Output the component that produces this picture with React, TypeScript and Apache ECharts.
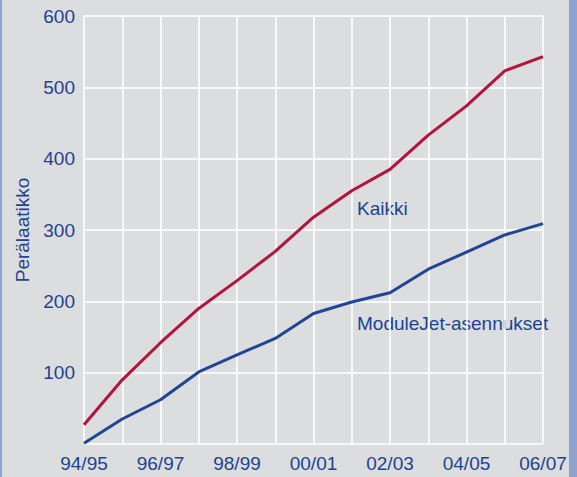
import React, { useEffect, useRef } from "react";
import * as echarts from "echarts";

const categories = ["94/95", "95/96", "96/97", "97/98", "98/99", "99/00", "00/01", "01/02", "02/03", "03/04", "04/05", "05/06", "06/07"];
const kaikki = [27, 90, 142, 190, 229, 270, 318, 355, 385, 433, 474, 523, 543];
const moduleJet = [1, 35, 62, 101, 125, 148, 183, 199, 212, 245, 269, 293, 309];
const yTicks = { min: 0, max: 600, interval: 100 };
const seriesNames = ["Kaikki", "ModuleJet-asennukset"];
const yAxisName = "Perälaatikko";

const FONT = "'Liberation Sans', Arial, Helvetica, sans-serif";
const TEXT_BLUE = "#1d4391";
const RED = "#b5123c";
const BLUE = "#1f4696";

export default function App() {
  const ref = useRef<HTMLDivElement>(null);
  useEffect(() => {
    if (!ref.current) return;
    const chart = echarts.init(ref.current, null, { renderer: "svg" });
    chart.setOption({
      animation: false,
      backgroundColor: "#dcdddf",
      textStyle: { fontFamily: FONT },
      grid: { left: 84, right: 34, top: 16, bottom: 33 },
      xAxis: {
        type: "category",
        data: categories,
        boundaryGap: false,
        axisLine: { show: false },
        axisTick: { show: false },
        splitLine: { show: true, interval: 0, lineStyle: { color: "#ffffff", width: 1.5 } },
        axisLabel: {
          interval: 1,
          color: TEXT_BLUE,
          fontSize: 19,
          fontFamily: FONT,
          margin: 10,
        },
      },
      yAxis: {
        type: "value",
        min: yTicks.min,
        max: yTicks.max,
        interval: yTicks.interval,
        name: yAxisName,
        nameLocation: "middle",
        nameGap: 38,
        nameTextStyle: { color: TEXT_BLUE, fontSize: 19, fontFamily: FONT },
        axisLine: { show: false },
        axisTick: { show: false },
        splitLine: { show: true, lineStyle: { color: "#ffffff", width: 1.5 } },
        axisLabel: {
          color: TEXT_BLUE,
          fontSize: 19,
          fontFamily: FONT,
          margin: 9,
          formatter: (v: number) => (v === 0 ? "" : String(v)),
        },
      },
      series: [
        {
          name: seriesNames[0],
          type: "line",
          data: kaikki,
          symbol: "none",
          lineStyle: { color: RED, width: 3 },
        },
        {
          name: seriesNames[1],
          type: "line",
          data: moduleJet,
          symbol: "none",
          lineStyle: { color: BLUE, width: 3 },
        },
      ],
      graphic: [
        { type: "rect", left: 0, top: 0, shape: { width: 2, height: 477 }, style: { fill: "#8fa3cb" } },
        { type: "rect", right: 0, top: 0, shape: { width: 8, height: 477 }, style: { fill: "#8fa3cb" } },
        {
          type: "text",
          x: 357,
          y: 208,
          style: { text: seriesNames[0], fill: TEXT_BLUE, font: `19px ${FONT}`, verticalAlign: "middle" },
        },
        {
          type: "text",
          x: 357,
          y: 323,
          style: { text: seriesNames[1], fill: TEXT_BLUE, font: `19px ${FONT}`, verticalAlign: "middle" },
        },
      ],
    });
    return () => chart.dispose();
  }, []);
  return (
    <div
      ref={ref}
      style={{ position: "fixed", left: 0, top: 0, width: 577, height: 477 }}
    />
  );
}
